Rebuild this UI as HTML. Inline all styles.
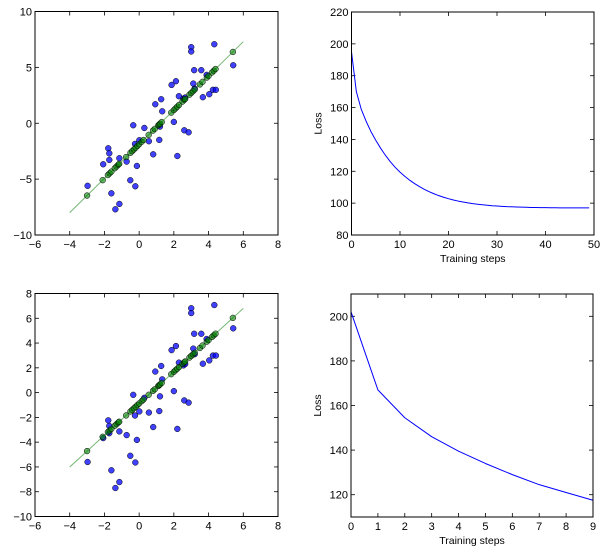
<!DOCTYPE html>
<html><head><meta charset="utf-8"><style>
body{margin:0;background:#fff;}
svg{display:block;font-family:"Liberation Sans",sans-serif;}
</style></head><body>
<svg id="fig" width="610" height="551" viewBox="0 0 610 551"></svg>
<script>
// scatter data (shared by both left panels)
const blueX=[-2.97,-2.07,-1.78,-1.72,-1.72,-1.6,-1.14,-1.14,-1.37,-0.34,-0.72,-0.51,-0.22,-0.13,-0.24,0.01,0.3,0.56,0.81,0.93,1.16,1.2,1.27,1.33,1.87,2.12,2.0,2.2,2.29,2.6,2.85,3.0,3.0,3.12,3.17,3.58,3.67,3.89,4.04,4.25,4.33,4.42,5.42,2.55,2.65,3.2];
const blueY=[-5.6,-3.67,-2.24,-2.69,-3.28,-6.27,-3.13,-7.22,-7.7,-0.18,-3.43,-5.1,-5.64,-3.82,-1.85,-1.52,-0.42,-1.61,-2.78,1.7,-1.49,-0.3,2.15,1.07,3.43,3.76,0.12,-2.93,2.42,-0.63,-0.81,6.81,6.42,3.55,4.75,4.75,2.33,4.33,2.6,2.99,7.07,2.99,5.19,2.2,2.3,3.1];
const greenX=[-3,-2.1,-1.8,-1.7,-1.6,-1.4,-1.3,-1.2,-1.15,-0.75,-0.5,-0.4,-0.3,-0.2,-0.1,0,0.15,0.25,0.55,0.8,0.9,1.1,1.15,1.2,1.3,1.85,2.0,2.1,2.2,2.3,2.5,2.6,2.65,2.9,3.0,3.1,3.2,3.5,3.65,3.9,4.0,4.2,4.3,4.4,5.4];
const fitTop=[1.53,-1.88];   // slope, intercept
const fitBottom=[1.28,-0.88];
const lineX=[-4,6];
// loss curves
const lossLong=[195,170,159,151.5,145,139.5,134.5,130,126,122.5,119.5,116.8,114.4,112.3,110.4,108.7,107.2,105.9,104.7,103.7,102.8,102,101.3,100.7,100.2,99.7,99.3,99,98.7,98.4,98.2,98,97.8,97.7,97.6,97.5,97.4,97.3,97.25,97.2,97.15,97.1,97.08,97.06,97.04,97.02,97,97,97,97];
const lossShort=[202,167,154.5,146,139.5,134,129,124.5,121,117.5];
const ticksLeftX=[-6,-4,-2,0,2,4,6,8];
const ticksTopY=[-10,-5,0,5,10];
const ticksBotY=[-10,-8,-6,-4,-2,0,2,4,6,8];
const ticksLossX=[0,10,20,30,40,50];
const ticksLossY=[80,100,120,140,160,180,200,220];
const ticksShortX=[0,1,2,3,4,5,6,7,8,9];
const ticksShortY=[120,140,160,180,200];

const NS="http://www.w3.org/2000/svg";
const svg=document.getElementById('fig');
function el(tag,attrs,parent){const e=document.createElementNS(NS,tag);for(const k in attrs)e.setAttribute(k,attrs[k]);(parent||svg).appendChild(e);return e;}
function fmt(v){return v<0?'\u2212'+Math.abs(v):String(v);}

function axes(name,x0,y0,x1,y1,xd,yd,xt,yt,xl,yl){
  const g=el('g',{});
  
  
  const sx=v=>x0+(v-xd[0])/(xd[1]-xd[0])*(x1-x0);
  const sy=v=>y1-(v-yd[0])/(yd[1]-yd[0])*(y1-y0);
  xt.forEach(v=>{const x=sx(v);
    el('line',{x1:x,x2:x,y1:y1,y2:y1-4,stroke:'#000','stroke-width':0.8},g);
    el('line',{x1:x,x2:x,y1:y0,y2:y0+4,stroke:'#000','stroke-width':0.8},g);
    const t=el('text',{x:x,y:y1+13,'font-size':11,'text-anchor':'middle',fill:'#000'},g);t.textContent=fmt(v);
    
    });
  yt.forEach(v=>{const y=sy(v);
    el('line',{x1:x0,x2:x0+4,y1:y,y2:y,stroke:'#000','stroke-width':0.8},g);
    el('line',{x1:x1,x2:x1-4,y1:y,y2:y,stroke:'#000','stroke-width':0.8},g);
    const t=el('text',{x:x0-3,y:y+4,'font-size':11,'text-anchor':'end',fill:'#000'},g);t.textContent=fmt(v);
    
    });
  if(xl){const t=el('text',{x:(x0+x1)/2,y:y1+27,'font-size':10.5,'text-anchor':'middle'},g);t.textContent=xl;
    
    }
  if(yl){const t=el('text',{x:0,y:0,'font-size':10.5,'text-anchor':'middle',transform:`translate(${x0-30},${(y0+y1)/2}) rotate(-90)`},g);t.textContent=yl;
    
    }
  return {g,sx,sy,frame:()=>{const r=el('rect',{x:x0,y:y0,width:x1-x0,height:y1-y0,fill:'none',stroke:'#000','stroke-width':1},g);
    
    }};
}

function scatter(a,fit){
  blueX.forEach((x,i)=>{const c=el('circle',{cx:a.sx(x),cy:a.sy(blueY[i]),r:2.9,fill:'#0000ff','fill-opacity':0.75,stroke:'#000','stroke-width':0.5},a.g);
    
    });
  const l=el('line',{x1:a.sx(lineX[0]),y1:a.sy(fit[0]*lineX[0]+fit[1]),x2:a.sx(lineX[1]),y2:a.sy(fit[0]*lineX[1]+fit[1]),stroke:'#008000','stroke-opacity':0.55,'stroke-width':1},a.g);
  
  
  greenX.forEach(x=>{const c=el('circle',{cx:a.sx(x),cy:a.sy(fit[0]*x+fit[1]),r:2.9,fill:'#008000','fill-opacity':0.6,stroke:'#000','stroke-width':0.5},a.g);
    
    });
  a.frame();
}
function lossLine(a,arr){
  const p=el('polyline',{points:arr.map((v,i)=>a.sx(i)+','+a.sy(v)).join(' '),fill:'none',stroke:'#0000ff','stroke-width':1,'stroke-linejoin':'round'},a.g);
  
  
  a.frame();
}

const a1=axes('scatter-top',35,11.5,278,235,[-6,8],[-10,10],ticksLeftX,ticksTopY);
scatter(a1,fitTop);
const a2=axes('loss-chart-top',351.5,12,594,235,[0,50],[80,220],ticksLossX,ticksLossY,'Training steps','Loss');
lossLine(a2,lossLong);
const a3=axes('scatter-bottom',35,293.5,278,516.5,[-6,8],[-10,8],ticksLeftX,ticksBotY);
scatter(a3,fitBottom);
const a4=axes('loss-chart-bottom',351,294,593,517,[0,9],[110,210],ticksShortX,ticksShortY,'Training steps','Loss');
lossLine(a4,lossShort);
</script>
</body></html>
